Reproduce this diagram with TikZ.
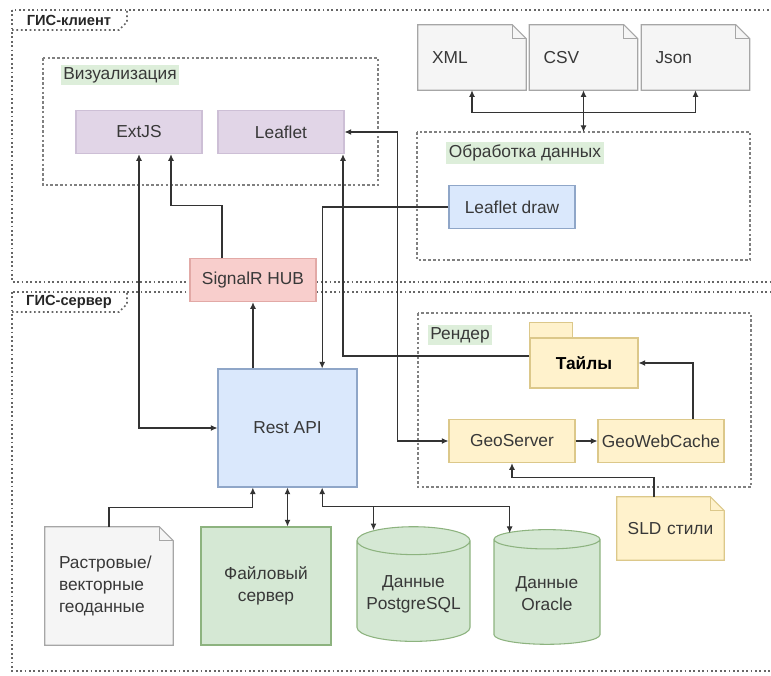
\documentclass[tikz,border=0pt]{standalone}
\usepackage{fontspec}
\setmainfont{Liberation Sans}
\usetikzlibrary{arrows.meta, positioning, shapes.geometric, backgrounds}
\definecolor{purplefill}{HTML}{E1D5E7}\definecolor{purpledraw}{HTML}{CDBFD6}
\definecolor{bluefill}{HTML}{DAE8FC}\definecolor{bluedraw}{HTML}{8FA6C8}
\definecolor{pinkfill}{HTML}{F8CECC}\definecolor{pinkdraw}{HTML}{E2A9A6}
\definecolor{yellowfill}{HTML}{FFF2CC}\definecolor{yellowdraw}{HTML}{DCC88A}
\definecolor{greenfill}{HTML}{D5E8D4}\definecolor{greendraw}{HTML}{8DB37F}
\definecolor{grayfill}{HTML}{F5F5F5}\definecolor{graydraw}{HTML}{A6A6A6}
\definecolor{tagfill}{HTML}{DDEEDA}

\begin{document}
\begin{tikzpicture}[x=0.75pt, y=-0.75pt, font=\fontsize{13}{16.5}\selectfont, text=black!78,
 box/.style={rectangle, minimum width=94.5pt, minimum height=32.5pt, inner sep=0pt, line width=0.8pt},
 vis/.style={box, fill=purplefill, draw=purpledraw}, blue/.style={box, fill=bluefill, draw=bluedraw},
 pink/.style={box, fill=pinkfill, draw=pinkdraw}, yellow/.style={box, fill=yellowfill, draw=yellowdraw},
 green/.style={box, fill=greenfill, draw=greendraw},
 doc/.style={rectangle, minimum width=81pt, minimum height=48.75pt, text width=60pt, inner xsep=10.5pt, align=left},
 db/.style={cylinder, shape border rotate=90, aspect=0.27, draw=greendraw, fill=greenfill, line width=0.8pt, minimum height=86pt, align=center},
 frame/.style={draw=black!60, dotted, line width=1.3pt},
 grp/.style={draw=black!50, dash pattern=on 2pt off 1.6pt, line width=0.9pt},
 tag/.style={fill=tagfill, inner sep=2pt},
 ftag/.style={font=\bfseries\fontsize{11}{13}\selectfont, text=black!85},
 link/.style={-{Latex[length=5pt,width=4.5pt]}, draw=black!80, line width=0.8pt},
 dlink/.style={{Latex[length=5pt,width=4.5pt]}-{Latex[length=5pt,width=4.5pt]}, draw=black!80, line width=0.8pt}]

\useasboundingbox (0,0) rectangle (771,675);

% frames
\draw[frame] (12,10) rectangle (785,282); \draw[frame] (12,30) -- (119,30) -- (127,22) -- (127,10);
\node[ftag] (client) at (69,20) {ГИС-клиент};
\draw[frame] (12,292) rectangle (785,671); \draw[frame] (12,312) -- (119,312) -- (127,304) -- (127,292);
\node[ftag] (server) at (69,302) {ГИС-сервер};

% groups
\draw[grp] (43,58) rectangle (378,185); \node[tag] (vistag) at (120,75) {Визуализация};
\draw[grp] (417,132) rectangle (750,260); \node[tag] (proctag) at (525,153) {Обработка данных};
\draw[grp] (418,313) rectangle (751,487); \node[tag] (rendtag) at (460,335) {Рендер};
\coordinate (proctop) at (583.5,132);

% client side
\node[vis] (extjs) at (139,132) {ExtJS}; \node[vis] (leaflet) at (281,132) {Leaflet};
\node[doc] (xml) at (472,57.5) {XML}; \node[doc] (csv) at (583.5,57.5) {CSV}; \node[doc] (json) at (695.5,57.5) {Json};
\node[blue] (ldraw) at (512,207) {Leaflet draw};
\node[pink] (signalr) at (253,280) {SignalR HUB};

% server side
\node[blue, minimum width=104.25pt, minimum height=88.5pt] (rest) at (287.5,428) {Rest API};
\node[yellow, minimum width=81pt, minimum height=37.5pt, font=\bfseries\fontsize{13}{16.5}\selectfont, text=black] (tiles) at (584,363) {Тайлы};
\draw[yellowdraw, fill=yellowfill, line width=0.8pt] (tiles.north west) rectangle ++(43,-15);
\node[yellow] (geoserver) at (512,441) {GeoServer}; \node[yellow] (gwc) at (661,441) {GeoWebCache};
\node[doc, minimum width=80.25pt, minimum height=47.25pt, text width=70pt, inner xsep=5pt, align=center] (sld) at (670.5,528.5) {SLD стили};
\node[doc, minimum width=96pt, minimum height=88.5pt, text width=75pt] (rast) at (109,586) {Растровые/\\векторные\\геоданные};
\node[green, minimum width=97.5pt, minimum height=88.5pt, align=center] (fs) at (266,586) {Файловый\\сервер};
\node[db, minimum width=84.75pt] (pg) at (413.5,594) {Данные\\PostgreSQL};
\node[db, minimum width=79.5pt] (ora) at (547,594) {Данные\\Oracle};

\begin{scope}[on background layer]
\foreach \n/\f/\d in {xml/grayfill/graydraw, csv/grayfill/graydraw, json/grayfill/graydraw, rast/grayfill/graydraw, sld/yellowfill/yellowdraw}{
 \filldraw[fill=\f, draw=\d, line width=0.8pt] (\n.north west) -- ([xshift=-10.5pt]\n.north east) -- ([yshift=-10.5pt]\n.north east) -- (\n.south east) -- (\n.south west) -- cycle;
 \draw[\d, line width=0.8pt] ([xshift=-10.5pt]\n.north east) |- ([yshift=-10.5pt]\n.north east);}
\end{scope}

% connectors
\draw[dlink] (csv.south) -- (proctop);
\draw[link] (csv.south) ++(0,22) -| (xml.south); \draw[link] (csv.south) ++(0,22) -| (json.south);
\draw[dlink] (extjs.south) |- (rest.west);
\draw[link] ([xshift=-23.25pt]signalr.north) -- ++(0,-52) -| ([xshift=24pt]extjs.south);
\draw[link] (rest.north -| signalr) -- (signalr.south);
\draw[link] (ldraw.west) -| ([xshift=26pt]rest.north);
\draw[link] ([yshift=5.25pt]tiles.west) -| ([xshift=46.5pt]leaflet.south);
\draw[dlink] (leaflet.east) -- ++(53,0) |- (geoserver.west);
\draw[link] (geoserver) -- (gwc);
\draw[link] ([xshift=24pt]gwc.north) |- (tiles.east);
\draw[link] ([xshift=-12.4pt]sld.north) -- ++(0,-19) -| (geoserver.south);
\draw[link] (rast.north) -- ++(0,-19) -| ([xshift=-26pt]rest.south);
\draw[dlink] (rest.south) -- (rest.south |- fs.north);
\draw[dlink] ([xshift=26pt]rest.south) -- ++(0,19) -| ([xshift=-30pt,yshift=-3pt]pg.north);
\draw[link] ([xshift=26pt]rest.south) ++(0,19) -| ([xshift=-28pt,yshift=-3pt]ora.north);
\end{tikzpicture}
\end{document}
